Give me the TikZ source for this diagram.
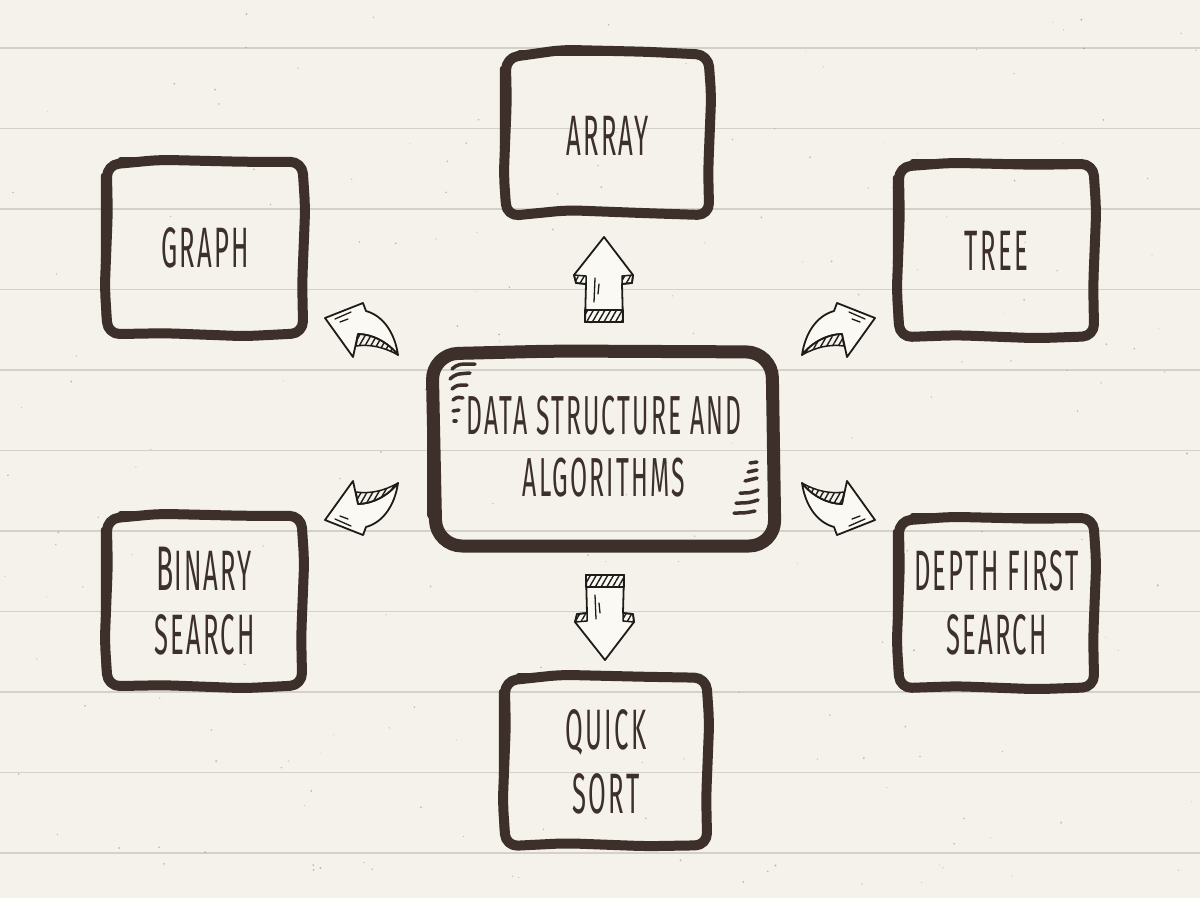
\documentclass[tikz,border=0pt]{standalone}
\usepackage{fontspec}
\newfontfamily\hand{Fira Sans}[FakeStretch=0.45, LetterSpace=4]
\usetikzlibrary{calc,patterns.meta}
\definecolor{paper}{HTML}{F4F2EB}
\definecolor{rulecol}{HTML}{D3D1C9}
\definecolor{ink}{HTML}{3D2F2A}
\definecolor{pen}{HTML}{1E1B19}
\definecolor{speck}{HTML}{8A867E}
\definecolor{glyphfill}{HTML}{FAF9F4}

\tikzset{
  sketch/.style={draw=ink, line width=10pt, line join=round, line cap=round},
  thinsketch/.style={draw=ink, line width=6pt, line join=round, line cap=round},
  txt/.style={text=ink, font=\hand\fontsize{57}{64}\selectfont, align=center, inner sep=0pt},
  bignode/.style={txt, font=\hand\fontsize{55}{62}\selectfont},
  flick/.style={draw=ink, line width=3.5pt, line cap=round},
  arrowline/.style={draw=pen, fill=glyphfill, line width=1.8pt, line join=round},
  hatchpart/.style={draw=pen, line width=1.5pt, line join=round,
    pattern={Lines[angle=60,distance=5pt,line width=1.4pt]}, pattern color=pen},
  hiline/.style={draw=pen, line width=1.3pt, line cap=round},
  ruling/.style={draw=rulecol, line width=1.6pt},
}

% hand drawn frame around a named node; #2 = top bulge, #3 = bottom bulge
\newcommand\handbox[3]{%
  \draw[sketch, rounded corners=12pt] ($(#1.north west)+(0,3)$)
    -- ($(#1.north)+(-45,{-1-#2})$) -- ($(#1.north)+(40,{1-#2})$) -- ($(#1.north east)+(-1,0)$)
    -- ($(#1.east)+(2,-40)$) -- ($(#1.east)+(-1,35)$) -- ($(#1.south east)+(0,-1)$)
    -- ($(#1.south)+(40,{2-#3})$) -- ($(#1.south)+(-40,{-1-#3})$) -- ($(#1.south west)+(1,0)$)
    -- ($(#1.west)+(-2,40)$) -- ($(#1.west)+(1,-35)$) -- cycle;
  \draw[thinsketch] ($(#1.north west)+(-3,14)$) -- ($(#1.west)+(-3,0)$) -- ($(#1.south west)+(-2,-14)$);
  \draw[thinsketch] ($(#1.north west)+(14,-2)$) -- ($(#1.north east)+(-14,-2)$);
}

% straight block arrow pointing up, centred on the origin
\newcommand\arrowStraight{%
  \filldraw[arrowline] (0,-43) -- (29,-5) -- (28,3) -- (18,4) -- (19,42) -- (-19,42)
     -- (-18,4) -- (-28,3) -- (-30,-5) -- cycle;
  \draw[hatchpart] (29,-5) -- (18,-4) -- (18,4) -- (28,3) -- cycle;
  \draw[hatchpart] (-30,-5) -- (-18,-4) -- (-18,4) -- (-28,3) -- cycle;
  \draw[hatchpart] (-19,30) -- (19,30) -- (19,42) -- (-19,42) -- cycle;
  \draw[hiline] (-9,-2) -- (-10,22);
  \draw[hiline] (-5,4) -- (-6,14);
}

% curved block arrow pointing up-left, centred on the origin
\newcommand\arrowCurved{%
  \filldraw[arrowline] (-37,-12) -- (1,-27) -- (4,-19)
     .. controls (22,-14) and (33,4) .. (36,25)
     .. controls (26,12) and (10,4) .. (-4,4) -- (-9,27) -- cycle;
  \draw[hatchpart] (-4,4) .. controls (10,4) and (26,12) .. (36,25)
     .. controls (22,17) and (8,14) .. (-6,16) -- cycle;
  \draw[hiline] (-27,-11) -- (-11,-18);
  \draw[hiline] (-22,-8) -- (-14,-11);
}

\begin{document}
\begin{tikzpicture}[x=1pt,y=-1pt]
  \useasboundingbox (0,0) rectangle (1200,898);
  \fill[paper] (0,0) rectangle (1200,898);

  % ruled paper
  \foreach \k in {0,...,10}{
    \draw[ruling] (0,{48+80.5*\k}) -- (1200,{48+80.5*\k});
  }
  % speckles
  \pgfmathsetseed{12}
  \foreach \i in {1,...,200}{
    \pgfmathsetmacro\sx{rnd*1200}
    \pgfmathsetmacro\sy{rnd*898}
    \pgfmathsetmacro\sr{0.4+rnd*0.7}
    \fill[speck, opacity=0.5] (\sx,\sy) circle (\sr pt);
  }

  % nodes
  \node[txt, minimum width=196pt, minimum height=172pt] (graph)  at (205,248) {GRAPH};
  \node[txt, minimum width=203pt, minimum height=161pt] (array)  at (607.5,135.5) {ARRAY};
  \node[txt, minimum width=195pt, minimum height=173pt] (tree)   at (996.5,250.5) {TREE};
  \node[txt, minimum width=195pt, minimum height=170pt] (binary) at (204.5,601)
       {{\fontsize{63}{63}\selectfont B}INARY\\SEARCH};
  \node[txt, minimum width=195pt, minimum height=170pt] (depth)  at (996.5,603) {DEPTH FIRST\\SEARCH};
  \node[txt, minimum width=202pt, minimum height=168pt] (quick)  at (606,762) {QUICK\\SORT};
  \node[bignode, minimum width=345pt, minimum height=194pt] (dsa) at (604,447)
       {DATA STRUCTURE AND\\ALGORITHMS};

  % frames
  \handbox{graph}{1}{0}
  \handbox{array}{4}{5}
  \handbox{tree}{0}{1}
  \handbox{binary}{1}{0}
  \handbox{depth}{0}{1}
  \handbox{quick}{2}{2}

  % central frame
  \draw[sketch, line width=13pt, rounded corners=26pt]
    (432,354) -- (556,351) -- (772,352) -- (775,546) -- (436,546) -- cycle;
  \draw[thinsketch, line width=8pt] (431,380) -- (431,515);
  \draw[thinsketch, line width=8pt] (772,380) -- (774,520);
  % flicks, upper left
  \draw[flick] (452,369) .. controls (458,364) .. (475,364);
  \draw[flick] (450,379) .. controls (456,374) .. (470,373);
  \draw[flick] (452,389) .. controls (457,385) .. (467,385);
  \draw[flick] (453,400) .. controls (457,397) .. (463,398);
  \draw[flick] (453,411) -- (459,410);
  \draw[flick] (454,421) -- (456,421);
  % flicks, lower right
  \draw[flick] (750,463) -- (757,462);
  \draw[flick] (748,472) -- (757,470);
  \draw[flick] (745,481) -- (757,478);
  \draw[flick] (740,493) .. controls (750,493) .. (758,490);
  \draw[flick] (736,503) .. controls (748,503) .. (758,500);
  \draw[flick] (734,513) .. controls (745,513) .. (755,511);

  % arrows
  \begin{scope}[shift={(604,280)}] \arrowStraight \end{scope}
  \begin{scope}[shift={(605,617)}, yscale=-1] \arrowStraight \end{scope}
  \begin{scope}[shift={(362,330)}] \arrowCurved \end{scope}
  \begin{scope}[shift={(838,330)}, xscale=-1] \arrowCurved \end{scope}
  \begin{scope}[shift={(362,508)}, yscale=-1] \arrowCurved \end{scope}
  \begin{scope}[shift={(838,508)}, xscale=-1, yscale=-1] \arrowCurved \end{scope}
\end{tikzpicture}
\end{document}
